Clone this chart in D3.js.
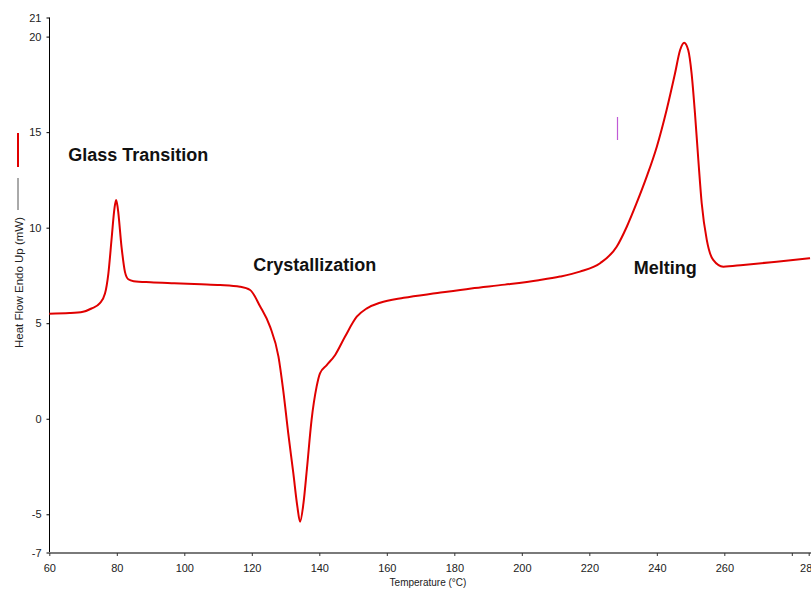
<!DOCTYPE html>
<html>
<head>
<meta charset="utf-8">
<script src="https://cdn.jsdelivr.net/npm/d3@7"></script>
<style>
  html, body { margin: 0; padding: 0; background: #fff; }
  svg { display: block; }
  text { font-family: "Liberation Sans", Arial, sans-serif; }
</style>
</head>
<body>
<svg id="chart" width="811" height="589"></svg>
<script>
// ---- Data ----
const temperature = [60, 66, 70, 72.5, 75, 76.5, 77.5, 78.5, 79.3, 79.8, 80.3, 81.4, 82.4, 83.4, 85, 90, 97, 105,
  110.6, 116.5, 119.5, 122.4, 125.4, 127.9, 129.3, 130.8, 132.3, 133.5, 134.3, 135.3, 136.3, 137.7, 139.2, 140.2,
  142.2, 144.7, 147.6, 151.1, 154.1, 158, 165, 175, 185, 195, 205, 211.3, 217.2, 223.2, 228.1, 231.1, 234, 237,
  240, 242.9, 245.4, 246.9, 248.1, 249.3, 250.3, 251.3, 252.3, 253.3, 254.8, 256.7, 259.7, 265.6, 275.5, 285.4];
const heatFlow = [5.5, 5.53, 5.6, 5.77, 6.05, 6.55, 7.6, 9.5, 11.0, 11.45, 11.0, 9.0, 7.7, 7.3, 7.2, 7.14, 7.09, 7.04,
  7.0, 6.91, 6.74, 5.9, 4.82, 3.25, 1.5, -0.76, -2.85, -4.6, -5.39, -4.43, -2.68, -0.07, 1.68, 2.38,
  2.81, 3.34, 4.29, 5.34, 5.78, 6.07, 6.33, 6.58, 6.82, 7.02, 7.25, 7.44, 7.7, 8.14, 9.0, 10.05, 11.28, 12.67,
  14.24, 16.16, 18.08, 19.3, 19.68, 19.3, 18.08, 15.99, 13.54, 11.28, 9.36, 8.31, 7.96, 8.05, 8.22, 8.4];
const xTicks = [60, 80, 100, 120, 140, 160, 180, 200, 220, 240, 260, 280];
const yTicks = [-7, -5, 0, 5, 10, 15, 20, 21];
const annotations = [
  { text: "Glass Transition", t: 65.6, v: 13.49 },
  { text: "Crystallization", t: 120.4, v: 7.73 },
  { text: "Melting", t: 233.2, v: 7.58 }
];
const xTitle = "Temperature (°C)";
const yTitle = "Heat Flow Endo Up (mW)";

// ---- Layout ----
const svg = d3.select("#chart");
const x = d3.scaleLinear().domain([60, 285]).range([49.3, 808.7]);
const y = d3.scaleLinear().domain([-7, 21]).range([552.5, 17.5]);

// Y axis
const yAxis = svg.append("g").attr("transform", "translate(49.5,0)")
  .call(d3.axisLeft(y).tickValues(yTicks).tickSize(3).tickPadding(5).tickFormat(d => String(d)));
yAxis.select(".domain").attr("stroke", "#000").attr("stroke-width", 1).attr("d", `M0,${y(21)}V${y(-7)}`);
yAxis.selectAll(".tick line").attr("stroke", "#000");
yAxis.selectAll(".tick text").attr("font-size", 11).attr("fill", "#222")
  .attr("font-family", "'Liberation Sans', Arial, sans-serif");

// X axis
const xAxis = svg.append("g").attr("transform", "translate(0,553)")
  .call(d3.axisBottom(x).tickValues(xTicks.concat([285])).tickSize(3).tickPadding(8)
    .tickFormat(d => d === 280 ? "" : d === 285 ? "280" : String(d)));
xAxis.select(".domain").attr("stroke", "#7a7a7a").attr("stroke-width", 2).attr("d", `M49,0H811`);
xAxis.selectAll(".tick line").attr("stroke", "#333");
xAxis.selectAll(".tick text").attr("font-size", 11).attr("fill", "#222")
  .attr("font-family", "'Liberation Sans', Arial, sans-serif");

// Axis titles
svg.append("text").attr("x", 428).attr("y", 586).attr("text-anchor", "middle")
  .attr("font-size", 10).attr("fill", "#222").text(xTitle);
svg.append("text").attr("transform", "translate(22.5,282.5) rotate(-90)").attr("text-anchor", "middle")
  .attr("font-size", 11.5).attr("fill", "#222").text(yTitle);

// Legend marks next to y title
svg.append("line").attr("x1", 18).attr("x2", 18).attr("y1", 133).attr("y2", 167)
  .attr("stroke", "#e00000").attr("stroke-width", 2);
svg.append("line").attr("x1", 18).attr("x2", 18).attr("y1", 178).attr("y2", 210)
  .attr("stroke", "#555").attr("stroke-width", 1);

// Small magenta mark
svg.append("line").attr("x1", 617.5).attr("x2", 617.5).attr("y1", 117).attr("y2", 140)
  .attr("stroke", "#c05ad6").attr("stroke-width", 1.2);

// Curve
const pts = temperature.map((t, i) => [t, heatFlow[i]]);
const line = d3.line().x(d => x(d[0])).y(d => y(d[1])).curve(d3.curveMonotoneX);
svg.append("path").datum(pts).attr("d", line).attr("fill", "none")
  .attr("stroke", "#e00000").attr("stroke-width", 2).attr("stroke-linejoin", "round");

// Annotations
svg.selectAll(".ann").data(annotations).enter().append("text").attr("class", "ann")
  .attr("x", d => x(d.t)).attr("y", d => y(d.v))
  .attr("font-size", 18).attr("font-weight", "bold").attr("fill", "#111").text(d => d.text);
</script>
</body>
</html>
